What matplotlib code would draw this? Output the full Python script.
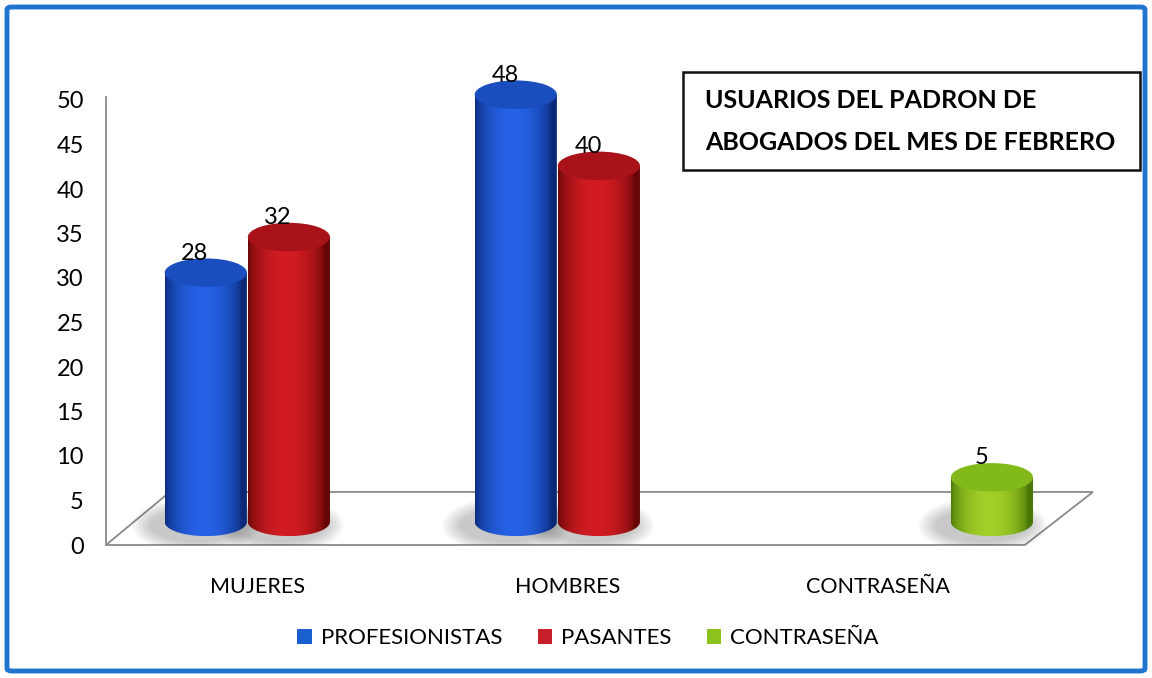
import matplotlib.pyplot as plt
import numpy as np
from matplotlib.patches import Polygon, Ellipse, Rectangle, FancyBboxPatch, Patch
from matplotlib.colors import to_rgb

categories = ["MUJERES", "HOMBRES", "CONTRASEÑA"]
series_names = ["PROFESIONISTAS", "PASANTES", "CONTRASEÑA"]
profesionistas = [28, 48, 0]
pasantes = [32, 40, 0]
contrasena = [0, 0, 5]
title_lines = ["USUARIOS DEL PADRON DE", "ABOGADOS DEL MES DE FEBRERO"]
yticks = list(range(0, 55, 5))

# (dark edge, light centre, top)
series_colors = [
    ("#0a2876", "#2562e6", "#1a4dbd"),
    ("#640606", "#d21c22", "#a81218"),
    ("#4a7808", "#a2d028", "#82b91a"),
]
legend_colors = ["#1a5fd0", "#c8202a", "#8cc21e"]

plt.rcParams["font.family"] = ["Lato", "DejaVu Sans"]

W, H = 1152, 678
fig = plt.figure(figsize=(W / 100, H / 100), dpi=100)

# axes placement in pixels: x 106..1093, y(0)=545, 8.9 px per unit
ytop = 56
ax = fig.add_axes([106 / W, (H - 545) / H, (1093 - 106) / W, ytop * 8.9 / H])
xmin, xmax = -0.49, 2.694
ax.set_xlim(xmin, xmax)
ax.set_ylim(0, ytop)

for s in ["top", "right", "bottom"]:
    ax.spines[s].set_visible(False)
ax.spines["left"].set_color("#8a8a8a")
ax.spines["left"].set_linewidth(1.3)
ax.spines["left"].set_bounds(0, 50.3)
ax.set_yticks(yticks)
ax.tick_params(axis="y", length=0, pad=16, labelsize=17)
ax.set_xticks(range(len(categories)))
ax.set_xticklabels(categories)
ax.tick_params(axis="x", length=0, pad=23, labelsize=15.5)

# floor
depth = 5.96
floor = Polygon([(xmin, 0), (2.474, 0), (xmax, depth), (-0.284, depth)],
                closed=True, facecolor="white", edgecolor="#8a8a8a", lw=1.3,
                zorder=1, clip_on=False)
ax.add_patch(floor)

base = 2.6
d = 0.265
e = 3.2
w = 0.268
shift = 0.1


def cylinder(cx, h, dark, light, top, z):
    dark = np.array(to_rgb(dark))
    light = np.array(to_rgb(light))
    x0, x1 = cx - d / 2, cx + d / 2
    # shadow
    for k in range(6):
        ax.add_patch(Ellipse((cx - 0.03, base - 0.4), d * (1.15 + 0.08 * k), e * (1.2 + 0.15 * k),
                             facecolor="#555555", alpha=0.06, edgecolor="none", zorder=2))
    t = np.linspace(np.pi, 2 * np.pi, 80)
    bottom = np.column_stack([cx + d / 2 * np.cos(t), base + e / 2 * np.sin(t)])
    pts = np.vstack([[x0, base + h], bottom, [x1, base + h]])
    body = Polygon(pts, closed=True, facecolor="none", edgecolor="none", zorder=z)
    ax.add_patch(body)
    u = np.linspace(0, 1, 200)
    prof = np.sin(np.pi * np.clip(u * 1.08, 0, 1)) ** 0.6
    grad = dark + (light - dark) * prof[:, None]
    im = ax.imshow(grad[None, :, :], extent=(x0, x1, base - e / 2, base + h),
                   aspect="auto", interpolation="bilinear", zorder=z)
    im.set_clip_path(body)
    ax.add_patch(Ellipse((cx, base + h), d, e, facecolor=top, edgecolor="none", zorder=z + 0.1))
    ax.text(cx - 0.035, base + h + e / 2 - 0.6, str(h), ha="center", va="bottom",
            fontsize=17, zorder=z + 0.2)


all_series = [profesionistas, pasantes, contrasena]
z = 3
for i in range(len(categories)):
    for j, vals in enumerate(all_series):
        if vals[i] == 0:
            continue
        cx = i + shift + (j - 1) * w
        cylinder(cx, vals[i], *series_colors[j], z)
        z += 1

ax.set_xlim(xmin, xmax)
ax.set_ylim(0, ytop)

# title box
fig.add_artist(Rectangle((683 / W, 1 - 170 / H), (1140 - 683) / W, 98 / H,
                         transform=fig.transFigure, facecolor="white",
                         edgecolor="#111111", lw=1.8))
fig.text(705 / W, 1 - 100 / H, title_lines[0], fontsize=18, fontweight="bold",
         va="center", ha="left")
fig.text(705 / W, 1 - 142 / H, title_lines[1], fontsize=18, fontweight="bold",
         va="center", ha="left")

# legend
handles = [Patch(facecolor=c, edgecolor="none") for c in legend_colors]
fig.legend(handles, series_names, loc="center", bbox_to_anchor=(588 / W, 1 - 638 / H),
           ncol=3, frameon=False, fontsize=16, handlelength=0.65, handleheight=0.65,
           handletextpad=0.4, columnspacing=1.6)

# outer blue border
fig.add_artist(FancyBboxPatch((7 / W, 7 / H), (W - 14) / W, (H - 14) / H,
                              boxstyle="round,pad=0,rounding_size=0.004",
                              transform=fig.transFigure, facecolor="none",
                              edgecolor="#1f74cf", lw=3.5))

fig.savefig("out.png", dpi=100)
